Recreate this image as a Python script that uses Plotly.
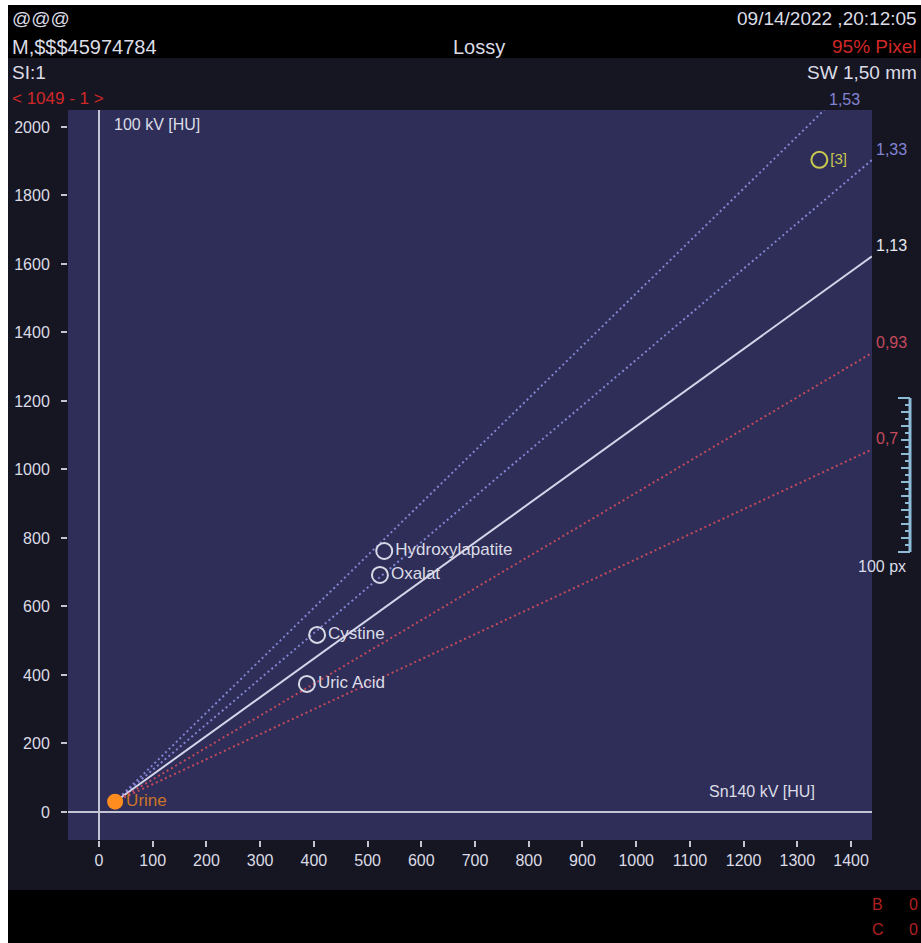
import plotly.graph_objects as go

# --- data -------------------------------------------------------------
materials = ["Hydroxylapatite", "Oxalat", "Cystine", "Uric Acid"]
sn140_hu = [531, 523, 406, 387]      # Sn140 kV [HU]
kv100_hu = [762, 692, 517, 374]      # 100 kV [HU]

urine_label = "Urine"
urine_sn140 = [30]
urine_kv100 = [30]

roi_label = "[3]"
roi_sn140 = [1341]
roi_kv100 = [1904]

ratios = [1.53, 1.33, 1.13, 0.93, 0.73]
ratio_labels = ["1,53", "1,33", "1,13", "0,93", "0,7"]

x_ticks = list(range(0, 1401, 100))
y_ticks = list(range(0, 2001, 200))

# --- styling ----------------------------------------------------------
W, H = 921, 943
L, R, T, B = 68, 872, 110, 840          # plot area in pixels
XMIN, XMAX = -57.7, 1439.0
YMIN, YMAX = -81.8, 2049.6

FONT = "Liberation Sans, Arial, sans-serif"
TXT = "#dcdce6"
RED = "#d02828"
LAV = "#8484d4"
PINK = "#c44a5c"
ratio_styles = [
    dict(color=LAV, dash="2px,3px", width=2, label=LAV),
    dict(color=LAV, dash="2px,3px", width=2, label=LAV),
    dict(color="#d4d4ea", dash="solid", width=2, label="#e8e8f0"),
    dict(color=PINK, dash="2px,3px", width=2, label=PINK),
    dict(color=PINK, dash="2px,3px", width=2, label=PINK),
]


def px(x):
    return (x - L) / (R - L)


def py(y):
    return (B - y) / (B - T)


fig = go.Figure()

# ratio lines from the urine reference point
ux, uy = urine_sn140[0], urine_kv100[0]
annotations = []
for r, lab, st in zip(ratios, ratio_labels, ratio_styles):
    x_top = ux + (YMAX - uy) / r
    if x_top < XMAX:
        ex, ey = x_top, YMAX
        xshift = 3
    else:
        ex, ey = XMAX, uy + r * (XMAX - ux)
        xshift = 2
    annotations.append(dict(x=ex, y=ey, xref="x", yref="y", text=lab,
                            showarrow=False, xanchor="left", yanchor="bottom",
                            xshift=xshift, yshift=0,
                            font=dict(family=FONT, size=16, color=st["label"])))
    fig.add_trace(go.Scatter(
        x=[ux, ex], y=[uy, ey], mode="lines", hoverinfo="skip",
        line=dict(color=st["color"], dash=st["dash"], width=st["width"]),
    ))

# stone materials
fig.add_trace(go.Scatter(
    x=sn140_hu, y=kv100_hu, mode="markers+text", text=materials,
    textposition="middle right",
    textfont=dict(family=FONT, size=17, color=TXT),
    marker=dict(symbol="circle-open", size=16, color="#d8d8e6",
                line=dict(width=2, color="#d8d8e6")),
))

# measured ROI
fig.add_trace(go.Scatter(
    x=roi_sn140, y=roi_kv100, mode="markers+text", text=[roi_label],
    textposition="middle right",
    textfont=dict(family=FONT, size=15, color="#c8c850"),
    marker=dict(symbol="circle-open", size=16, color="#c8c850",
                line=dict(width=2, color="#c8c850")),
))

# urine reference
fig.add_trace(go.Scatter(
    x=urine_sn140, y=urine_kv100, mode="markers+text", text=[urine_label],
    textposition="middle right",
    textfont=dict(family=FONT, size=17, color="#cc7428"),
    marker=dict(symbol="circle", size=16, color="#ff8c1e"),
))

# --- frame / header decorations --------------------------------------
shapes = [
    # white border strips
    dict(type="rect", xref="paper", yref="paper", x0=px(0), x1=px(8),
         y0=py(H), y1=py(0), fillcolor="white", line_width=0),
    dict(type="rect", xref="paper", yref="paper", x0=px(0), x1=px(W),
         y0=py(5), y1=py(0), fillcolor="white", line_width=0),
    # black header and footer bands
    dict(type="rect", xref="paper", yref="paper", x0=px(8), x1=px(W),
         y0=py(58), y1=py(5), fillcolor="black", line_width=0),
    dict(type="rect", xref="paper", yref="paper", x0=px(8), x1=px(W),
         y0=py(H), y1=py(890), fillcolor="black", line_width=0),
]

# 100 px scale bar
BAR_X, BAR_TOP, BAR_BOT, N_STEPS = 910, 398, 552, 22
BAR_COL = "#8cbcd8"
shapes.append(dict(type="line", xref="paper", yref="paper",
                   x0=px(BAR_X), x1=px(BAR_X), y0=py(BAR_BOT), y1=py(BAR_TOP),
                   line=dict(color=BAR_COL, width=3)))
for i in range(N_STEPS + 1):
    yy = BAR_TOP + i * (BAR_BOT - BAR_TOP) / N_STEPS
    if i in (0, N_STEPS):
        ln = 12
    elif i % 2 == 0:
        ln = 9
    else:
        ln = 5
    shapes.append(dict(type="line", xref="paper", yref="paper",
                       x0=px(BAR_X - ln), x1=px(BAR_X), y0=py(yy), y1=py(yy),
                       line=dict(color=BAR_COL, width=2)))


def note(text, x, y, xanchor="left", color=TXT, size=19):
    annotations.append(dict(text=text, x=px(x), y=py(y), xref="paper", yref="paper",
                            showarrow=False, xanchor=xanchor, yanchor="middle",
                            font=dict(family=FONT, size=size, color=color)))


note("@@@", 10, 18)
note("M,$$$45974784", 10, 47, size=20)
note("Lossy", 479, 47, xanchor="center", size=20)
note("09/14/2022 ,20:12:05", 919, 18, xanchor="right")
note("95% Pixel", 919, 47, xanchor="right", color=RED)
note("SW 1,50 mm", 919, 73, xanchor="right")
note("SI:1", 10, 73)
note("< 1049 - 1 >", 10, 99, color=RED, size=17)
note("100 kV [HU]", 112, 124, size=16)
note("Sn140 kV [HU]", 707, 791, size=16)
note("100 px", 882, 566, xanchor="center", size=16)
note("B", 870, 905, color="#b02020", size=16)
note("0", 920, 905, xanchor="right", color="#b02020", size=16)
note("C", 870, 929, color="#b02020", size=16)
note("0", 920, 929, xanchor="right", color="#b02020", size=16)

axis_common = dict(showgrid=False, zeroline=True, zerolinecolor="#c4c4d4",
                   zerolinewidth=2, showline=False, ticks="outside", ticklen=6,
                   tickwidth=2, tickcolor="#c4c4d0",
                   tickfont=dict(family=FONT, size=16, color=TXT), fixedrange=True)

fig.update_layout(
    width=W, height=H,
    margin=dict(l=L, r=W - R, t=T, b=H - B, pad=0),
    paper_bgcolor="#161623",
    plot_bgcolor="#2e2e58",
    showlegend=False,
    xaxis=dict(range=[XMIN, XMAX], tickvals=x_ticks, **axis_common),
    yaxis=dict(range=[YMIN, YMAX], tickvals=y_ticks, ticklabelstandoff=8,
               **axis_common),
    shapes=shapes,
    annotations=annotations,
)

fig.write_html("out.html")
